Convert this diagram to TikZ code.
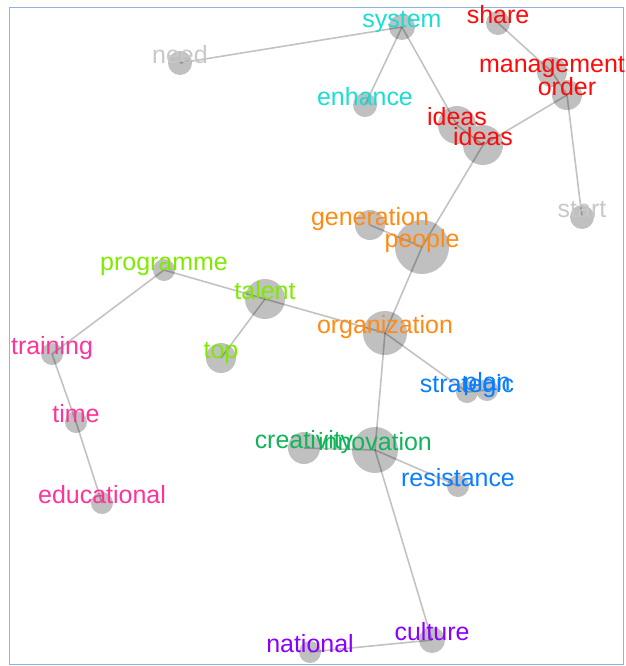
\documentclass[tikz,border=0pt]{standalone}
\usepackage{fontspec}
\setmainfont{Liberation Sans}
\usepackage{tikz}

\definecolor{bubble}{HTML}{C0C0C0}
\definecolor{wgray}{HTML}{C8C8C8}
\definecolor{wcyan}{HTML}{1CDCD4}
\definecolor{wred}{HTML}{FF0A0A}
\definecolor{worange}{HTML}{FF8A14}
\definecolor{wlime}{HTML}{7FEA00}
\definecolor{wpink}{HTML}{FF3399}
\definecolor{wgreen}{HTML}{12B45A}
\definecolor{wblue}{HTML}{0A7EFF}
\definecolor{wviolet}{HTML}{8A00FF}
\definecolor{framebl}{HTML}{8CB6E2}

\tikzset{
  word/.style={circle, fill=bubble, inner sep=0pt},
  link/.style={draw=black, opacity=0.24, line width=1.8pt},
  tag/.style={anchor=base, inner sep=0pt, font=\fontsize{28.4}{30}\selectfont},
}

% name/x/y/radius/colour/word, in pixels of the layout
\def\words{need/180/63/12/wgray/need, system/402/27/13/wcyan/system,
  enhance/365/105/12/wcyan/enhance, share/498/23/12/wred/share,
  mgmt/552/72/15/wred/management, order/567/95/15/wred/order,
  ideasA/457/125/19/wred/ideas, ideasB/483/145/20/wred/ideas,
  start/582/217/12/wgray/start, generation/370/225/15/worange/generation,
  people/422/247/27/worange/people, organization/385/333/22/worange/organization,
  programme/164/270/11/wlime/programme, talent/265/299/20/wlime/talent,
  top/221/358/15/wlime/top, training/52/354/11/wpink/training,
  time/76/422/11/wpink/time, educational/102/503/11/wpink/educational,
  creativity/304/448/16/wgreen/creativity, innovation/375/450/23/wgreen/innovation,
  strategic/467/392/11/wblue/strategic, plan/487/390/11/wblue/plan,
  resistance/458/486/11/wblue/resistance, culture/432/640/13/wviolet/culture,
  national/310/652/11/wviolet/national}

\begin{document}
\begin{tikzpicture}[x=0.04cm, y=-0.04cm]
  \useasboundingbox (0,0) rectangle (625,666);
  \draw[framebl, line width=1.2pt] (9.5,7.5) rectangle (623.5,664.5);

  % bubbles
  \foreach \nm/\px/\py/\rad/\col/\txt in \words
    \node[word, minimum size=0.08cm*\rad] (\nm) at (\px,\py) {};

  % tree edges
  \foreach \a/\b in {need/system, system/enhance, system/ideasA, ideasA/ideasB,
      share/mgmt, mgmt/order, order/ideasB, order/start, ideasB/people,
      generation/people, people/organization, programme/training,
      programme/talent, talent/top, talent/organization, training/time,
      time/educational, organization/strategic, strategic/plan,
      organization/innovation, innovation/creativity, innovation/resistance,
      innovation/culture, culture/national}
    \draw[link] (\a.center) -- (\b.center);

  % words on top
  \foreach \nm/\px/\py/\rad/\col/\txt in \words
    \node[tag, text=\col] (t-\nm) at (\px,\py) {\txt};
\end{tikzpicture}
\end{document}
